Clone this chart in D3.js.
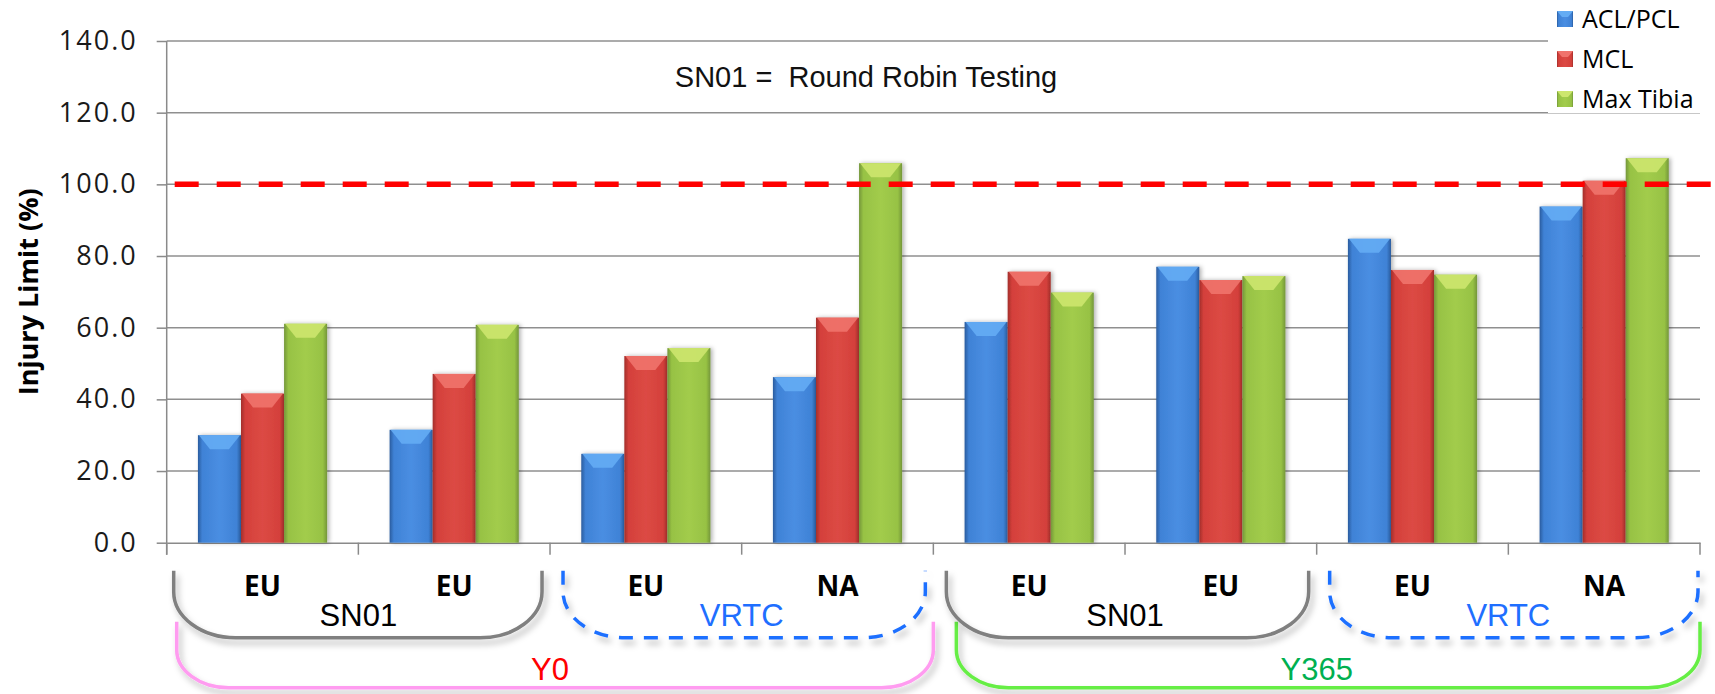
<!DOCTYPE html>
<html>
<head>
<meta charset="utf-8">
<script src="https://cdn.jsdelivr.net/npm/d3@7"></script>
<style>
  body { margin: 0; background: #fff; }
  svg { display: block; }
</style>
</head>
<body>
<svg id="chart"></svg>
<script>
// values
const categories = ["EU", "EU", "EU", "NA", "EU", "EU", "EU", "NA"];
const seriesNames = ["ACL/PCL", "MCL", "Max Tibia"];
const aclPcl = [30.0, 31.5, 24.8, 46.2, 61.6, 77.0, 84.8, 93.8];
const mcl = [41.6, 47.1, 52.1, 62.8, 75.6, 73.3, 76.1, 101.0];
const maxTibia = [61.1, 60.8, 54.3, 105.9, 69.8, 74.4, 74.8, 107.3];
const yTicks = [0, 20, 40, 60, 80, 100, 120, 140];
const limitValue = 100;
const labGroups = [
  { label: "SN01", first: 0, last: 1 },
  { label: "VRTC", first: 2, last: 3 },
  { label: "SN01", first: 4, last: 5 },
  { label: "VRTC", first: 6, last: 7 }
];
const yearGroups = [
  { label: "Y0", first: 0, last: 3 },
  { label: "Y365", first: 4, last: 7 }
];

const dimensions = {
  width: 1715,
  height: 694,
  margin: { top: 41, right: 15, bottom: 151.3, left: 166.7 }
};

const colors = {
  "ACL/PCL": { edge: "#2a5c9e", body: "#3f82d6", mid: "#4a8ee2", bevel: "#64acf4" },
  "MCL": { edge: "#a22e2b", body: "#d4403b", mid: "#dc4a44", bevel: "#f0736c" },
  "Max Tibia": { edge: "#74963a", body: "#97c244", mid: "#a2cc4c", bevel: "#cde66e" }
};
const labStyle = {
  SN01: { stroke: "#808080", text: "#000000", dash: null },
  VRTC: { stroke: "#1f6fff", text: "#1f6fff", dash: "14,11" }
};
const yearStyle = {
  Y0: { stroke: "#ff9cf0", text: "#ff0000" },
  Y365: { stroke: "#66ee44", text: "#00b050" }
};

const svg = d3.select("#chart")
  .attr("width", dimensions.width)
  .attr("height", dimensions.height);

const defs = svg.append("defs");
seriesNames.forEach((s, i) => {
  const c = colors[s];
  const g = defs.append("linearGradient").attr("id", "grad" + i)
    .attr("x1", "0").attr("x2", "1").attr("y1", "0").attr("y2", "0");
  g.append("stop").attr("offset", "0%").attr("stop-color", c.edge);
  g.append("stop").attr("offset", "10%").attr("stop-color", c.body);
  g.append("stop").attr("offset", "50%").attr("stop-color", c.mid);
  g.append("stop").attr("offset", "90%").attr("stop-color", c.body);
  g.append("stop").attr("offset", "100%").attr("stop-color", c.edge);
});
const barShadow = defs.append("filter").attr("id", "barShadow")
  .attr("x", "-20%").attr("y", "-5%").attr("width", "140%").attr("height", "110%");
barShadow.append("feDropShadow").attr("dx", 2).attr("dy", 0)
  .attr("stdDeviation", 2).attr("flood-color", "#000").attr("flood-opacity", 0.3);
const lineShadow = defs.append("filter").attr("id", "lineShadow")
  .attr("x", "-10%").attr("y", "-20%").attr("width", "120%").attr("height", "150%");
lineShadow.append("feDropShadow").attr("dx", 3).attr("dy", 5)
  .attr("stdDeviation", 3).attr("flood-color", "#000").attr("flood-opacity", 0.28);

const m = dimensions.margin;
const plotRight = dimensions.width - m.right;
const plotBottom = dimensions.height - m.bottom;

const x0 = d3.scaleBand()
  .domain(d3.range(categories.length))
  .range([m.left, plotRight]);
const bw = x0.bandwidth();
const x1 = d3.scaleBand()
  .domain(seriesNames)
  .range([bw * 0.163, bw * 0.837]);
const y = d3.scaleLinear().domain([0, 140]).range([plotBottom, m.top]);

// gridlines
svg.append("g")
  .selectAll("line")
  .data(yTicks.filter(d => d > 0))
  .join("line")
  .attr("x1", m.left).attr("x2", plotRight)
  .attr("y1", d => y(d)).attr("y2", d => y(d))
  .attr("stroke", "#8f8f8f").attr("stroke-width", 1.5);

// y axis
const axisY = d3.axisLeft(y)
  .tickValues(yTicks)
  .tickFormat(d3.format(".1f"))
  .tickSize(10)
  .tickPadding(19);
const gy = svg.append("g")
  .attr("transform", `translate(${m.left},0)`)
  .call(axisY);
gy.select(".domain").remove();
gy.append("line")
  .attr("x1", 0).attr("x2", 0)
  .attr("y1", y(140)).attr("y2", plotBottom + 12)
  .attr("stroke", "#8a8a8a").attr("stroke-width", 1.5);
gy.selectAll(".tick line").attr("stroke", "#8a8a8a").attr("stroke-width", 1.5);
gy.selectAll(".tick text")
  .attr("fill", "#1a1a1a")
  .style("font-family", "'Open Sans', sans-serif")
  .style("font-size", "27px")
  .style("letter-spacing", "2px");

// x axis (category boundaries)
const axisX = d3.axisBottom(x0).tickSize(0).tickFormat("");
const gx = svg.append("g")
  .attr("transform", `translate(0,${plotBottom})`)
  .call(axisX);
gx.select(".domain").attr("stroke", "#8a8a8a").attr("stroke-width", 1.5);
gx.selectAll(".tick").remove();
gx.selectAll(".boundary")
  .data(d3.range(categories.length + 1))
  .join("line")
  .attr("class", "boundary")
  .attr("x1", i => m.left + i * bw).attr("x2", i => m.left + i * bw)
  .attr("y1", 0).attr("y2", 12)
  .attr("stroke", "#8a8a8a").attr("stroke-width", 1.5);

// bars
const seriesValues = [aclPcl, mcl, maxTibia];
const barData = categories.map((c, i) =>
  seriesNames.map((s, k) => ({ idx: i, series: s, k, value: seriesValues[k][i] })));

const groups = svg.append("g")
  .selectAll("g")
  .data(barData)
  .join("g")
  .attr("transform", (d, i) => `translate(${x0(i)},0)`);

function drawBar(sel) {
  sel.append("rect")
    .attr("x", d => x1(d.series))
    .attr("y", d => y(d.value))
    .attr("width", x1.bandwidth())
    .attr("height", d => plotBottom - y(d.value))
    .attr("fill", d => `url(#grad${d.k})`)
    .attr("filter", "url(#barShadow)");
  sel.append("polygon")
    .attr("points", d => {
      const xl = x1(d.series), w = x1.bandwidth(), yt = y(d.value);
      const h = Math.min(14, plotBottom - yt);
      return [[xl + 1, yt], [xl + w - 1, yt], [xl + w * 0.72, yt + h], [xl + w * 0.28, yt + h]].join(" ");
    })
    .attr("fill", d => colors[d.series].bevel)
    .attr("opacity", 0.9);
}

groups.selectAll("g.bar")
  .data(d => d)
  .join("g")
  .attr("class", "bar")
  .call(drawBar);

// limit line
svg.append("line")
  .attr("x1", m.left + 8).attr("x2", dimensions.width - 3)
  .attr("y1", y(limitValue)).attr("y2", y(limitValue))
  .attr("stroke", "#ff0000").attr("stroke-width", 5.5)
  .attr("stroke-dasharray", "24,18");

// note text
svg.append("text")
  .attr("x", 866).attr("y", 87)
  .attr("text-anchor", "middle")
  .style("white-space", "pre")
  .style("font-family", "'Liberation Sans', Arial, sans-serif")
  .style("font-size", "29px")
  .attr("fill", "#111")
  .text("SN01 =  Round Robin Testing");

// y axis title
svg.append("text")
  .attr("text-anchor", "middle")
  .attr("transform", `translate(38,${(m.top + plotBottom) / 2})rotate(-90)`)
  .style("font-family", "'Open Sans', sans-serif")
  .style("font-weight", "bold")
  .style("font-size", "27px")
  .attr("fill", "#000")
  .text("Injury Limit (%)");

// brackets below the axis
function bracketPath(left, right, top, bottom, rx, ry) {
  return `M${left},${top} V${bottom - ry} A${rx},${ry} 0 0 0 ${left + rx},${bottom}` +
    ` H${right - rx} A${rx},${ry} 0 0 0 ${right},${bottom - ry} V${top}`;
}

const bracketArea = svg.append("g");
bracketArea.selectAll("path.year")
  .data(yearGroups)
  .join("path")
  .attr("class", "year")
  .attr("d", (d, i) => bracketPath(x0(d.first) + (i === 0 ? 10 : 23), x0(d.last) + bw,
    plotBottom + 79, plotBottom + 145, 52, 38))
  .attr("fill", "none")
  .attr("stroke", d => yearStyle[d.label].stroke)
  .attr("stroke-width", 3.5)
  .attr("filter", "url(#lineShadow)");

bracketArea.selectAll("path.lab")
  .data(labGroups)
  .join("path")
  .attr("class", "lab")
  .attr("d", d => bracketPath(x0(d.first) + (d.first === 0 ? 7 : 13), x0(d.last) + bw - (d.last === 7 ? 2 : 8),
    plotBottom + 28, plotBottom + 95, 62, 46))
  .attr("fill", "none")
  .attr("stroke", d => labStyle[d.label].stroke)
  .attr("stroke-dasharray", d => labStyle[d.label].dash)
  .attr("stroke-width", 3.5)
  .attr("filter", "url(#lineShadow)");

// category labels
svg.append("g")
  .selectAll("text")
  .data(categories)
  .join("text")
  .attr("x", (d, i) => x0(i) + bw / 2)
  .attr("y", plotBottom + 53)
  .attr("text-anchor", "middle")
  .style("font-family", "'Open Sans', sans-serif")
  .style("font-weight", "bold")
  .style("font-size", "28px")
  .attr("fill", "#000")
  .text(d => d);

svg.append("g")
  .selectAll("text")
  .data(labGroups)
  .join("text")
  .attr("x", d => (x0(d.first) + x0(d.last) + bw) / 2)
  .attr("y", plotBottom + 83)
  .attr("text-anchor", "middle")
  .style("font-family", "'Liberation Sans', Arial, sans-serif")
  .style("font-size", "31px")
  .attr("fill", d => labStyle[d.label].text)
  .text(d => d.label);

svg.append("g")
  .selectAll("text")
  .data(yearGroups)
  .join("text")
  .attr("x", d => (x0(d.first) + x0(d.last) + bw) / 2)
  .attr("y", plotBottom + 137)
  .attr("text-anchor", "middle")
  .style("font-family", "'Liberation Sans', Arial, sans-serif")
  .style("font-size", "31px")
  .attr("fill", d => yearStyle[d.label].text)
  .text(d => d.label);

// legend
const legend = svg.append("g").attr("transform", `translate(${dimensions.width - 167},0)`);
legend.append("rect")
  .attr("width", 167).attr("height", 113)
  .attr("fill", "#fff");
const items = legend.selectAll("g")
  .data(seriesNames)
  .join("g")
  .attr("transform", (d, i) => `translate(9,${11 + i * 40})`);
items.append("rect")
  .attr("width", 16).attr("height", 16)
  .attr("fill", (d, i) => `url(#grad${i})`);
items.append("polygon")
  .attr("points", "0,0 16,0 11,6 5,6")
  .attr("fill", d => colors[d].bevel);
items.append("text")
  .attr("x", 25).attr("y", 17)
  .style("font-family", "'Open Sans', sans-serif")
  .style("font-size", "25px")
  .attr("fill", "#000")
  .text(d => d);
</script>
</body>
</html>
